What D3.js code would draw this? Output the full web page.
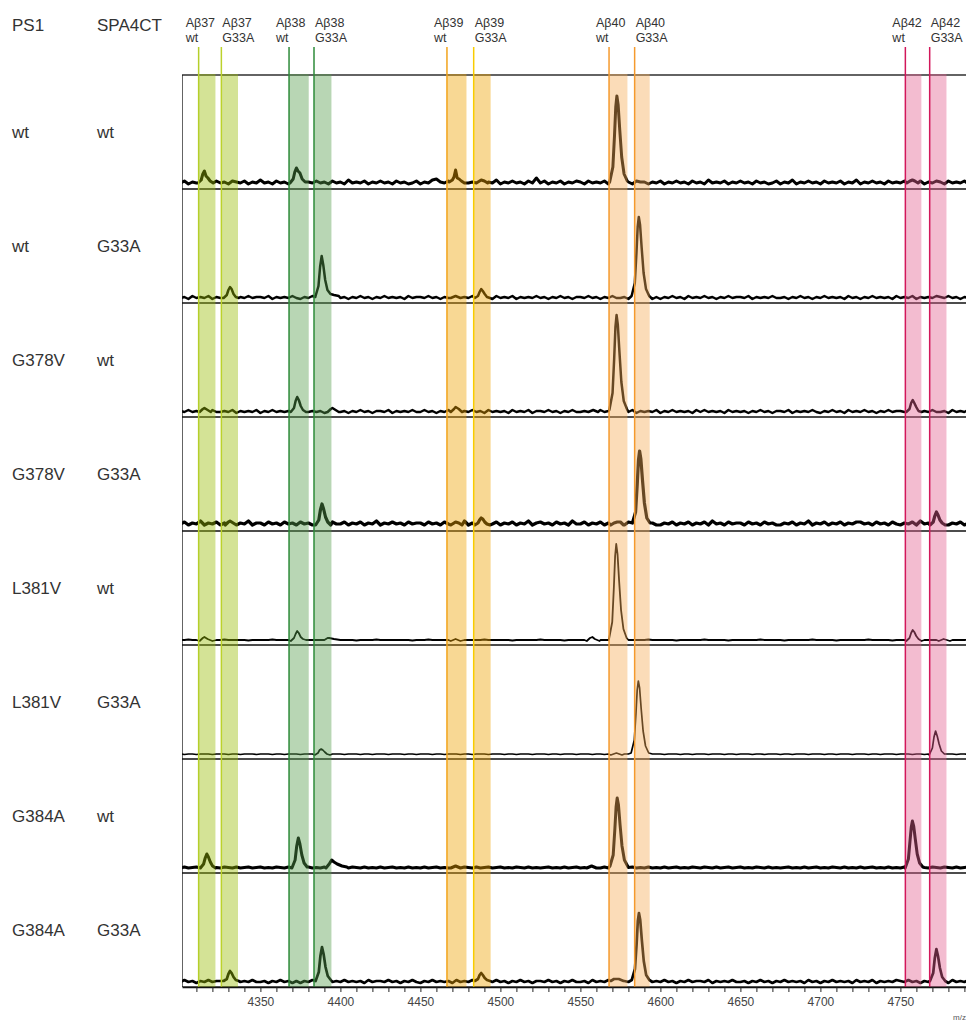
<!DOCTYPE html>
<html>
<head>
<meta charset="utf-8">
<script src="https://cdn.jsdelivr.net/npm/d3@7/dist/d3.min.js"></script>
<style>
body { margin: 0; background: #fff; }
text { font-family: "Liberation Sans", Arial, Helvetica, sans-serif; }
</style>
</head>
<body>
<div id="spectra"></div>
<script>
// row labels
const ps1Labels = ["wt", "wt", "G378V", "G378V", "L381V", "L381V", "G384A", "G384A"];
const spa4ctLabels = ["wt", "G33A", "wt", "G33A", "wt", "G33A", "wt", "G33A"];

// highlighted peptide windows (m/z)
const peptides = ["Aβ37", "Aβ37", "Aβ38", "Aβ38", "Aβ39", "Aβ39", "Aβ40", "Aβ40", "Aβ42", "Aβ42"];
const variants = ["wt", "G33A", "wt", "G33A", "wt", "G33A", "wt", "G33A", "wt", "G33A"];
const windowStart = [4311.4, 4325.6, 4367.9, 4383.5, 4466.6, 4483.3, 4567.9, 4583.9, 4753.1, 4768.3];
const windowEnd = [4321.9, 4336.0, 4380.2, 4394.4, 4478.8, 4493.9, 4579.4, 4593.3, 4763.1, 4778.8];
const lineColors = ["#b5cf2a", "#bcd22c", "#2e8b3a", "#2e8b3a", "#f2a31b", "#f9cc00", "#f59a2e", "#f59a2e", "#d2175a", "#d2175a"];
const fillColors = ["#98bc05", "#98bc05", "#569d4c", "#569d4c", "#eea200", "#eea200", "#f5ab56", "#f5ab56", "#e25f8f", "#e25f8f"];

// x axis ticks
const tickValues = d3.range(4310, 4800, 10);

// baseline sampled every 2.5 m/z from 4300
const baseMz = d3.range(4300, 4800, 2.5);
const base1 = [2,4,1,3,2,5,2,3,1,4, 2,3,1,4,3,2,4,1,3,2, 5,2,3,1,4,2,3,1,3,2, 4,1,3,2,4,2,3,1,4,2,
               3,1,5,2,3,2,4,1,3,2, 4,2,3,1,4,2,3,1,2,4, 1,3,2,5,6,3,2,4,2,3, 1,4,2,3,2,4,1,3,2,5,
               1,3,2,4,2,3,1,4,2,7, 2,4,1,3,2,4,1,3,2,4, 3,1,4,2,3,2,4,1,3,2, 4,2,3,1,4,3,3,1,3,2,
               4,1,3,2,4,2,3,1,4,2, 3,1,5,2,3,2,4,1,3,2, 4,2,3,1,4,2,3,1,2,4, 1,3,2,5,1,3,2,4,2,3,
               1,4,2,3,2,4,1,3,2,5, 1,3,2,4,2,3,1,4,2,3, 2,4,1,3,2,4,1,3,2,4, 3,1,4,2,3,2,4,1,3,2];
const base2 = [1,2,0,3,1,2,1,3,0,2, 1,3,1,2,0,2,1,3,1,2, 2,1,3,0,2,1,2,1,3,1, 0,2,1,3,1,2,0,3,1,2,
               1,2,0,2,1,3,1,2,0,2, 1,3,1,2,1,2,0,3,1,2, 2,1,3,1,2,0,2,1,3,1, 0,2,1,3,1,2,1,2,0,3,
               1,2,1,3,0,2,1,2,1,3, 1,2,0,2,1,3,1,2,0,2, 2,1,3,1,2,0,2,1,3,1, 1,2,0,3,1,2,1,3,0,2,
               0,2,1,3,1,2,0,3,1,2, 1,3,1,2,0,2,1,3,1,2, 2,1,3,0,2,1,2,1,3,1, 1,2,0,2,1,3,1,2,0,2,
               1,3,1,2,1,2,0,3,1,2, 0,2,1,3,1,2,1,2,0,3, 1,2,1,3,0,2,1,2,1,3, 2,1,3,1,2,0,2,1,3,1];
const base3 = [2,1,3,1,2,0,2,1,3,1, 1,2,1,3,0,2,1,2,1,3, 0,2,1,3,1,2,1,2,0,3, 1,3,1,2,1,2,0,3,1,2,
               1,2,0,2,1,3,1,2,0,2, 2,1,3,0,2,1,2,1,3,1, 1,3,1,2,0,2,1,3,1,2, 0,2,1,3,1,2,0,3,1,2,
               1,2,0,3,1,2,1,3,0,2, 2,1,3,1,2,0,2,1,3,1, 1,2,0,2,1,3,1,2,0,2, 1,2,1,3,0,2,1,2,1,3,
               0,2,1,3,1,2,1,2,0,3, 1,3,1,2,1,2,0,3,1,2, 1,2,0,2,1,3,1,2,0,2, 2,1,3,0,2,1,2,1,3,1,
               0,2,1,3,1,2,0,3,1,2, 1,3,1,2,0,2,1,3,1,2, 2,1,3,1,2,0,2,1,3,1, 1,2,0,3,1,2,1,3,0,2];
const base4 = [3,5,2,4,3,6,2,4,3,5, 2,4,3,5,2,4,3,6,2,4, 4,2,5,3,4,2,5,3,4,2, 5,3,4,2,6,3,4,2,5,3,
               3,5,2,4,3,5,2,4,3,6, 2,4,3,5,3,4,2,5,3,4, 4,2,5,3,4,2,5,3,4,2, 3,6,2,4,3,5,2,4,3,5,
               2,4,3,5,2,4,3,6,2,4, 5,3,4,2,5,3,4,2,6,3, 3,5,2,4,3,5,2,4,3,5, 4,2,5,3,4,2,6,3,4,2,
               2,4,3,5,2,4,3,5,2,4, 3,5,2,6,3,4,2,5,3,4, 4,2,5,3,4,2,5,3,4,2, 2,4,3,5,2,4,3,6,2,4,
               3,5,2,4,3,5,2,4,3,5, 5,3,4,2,5,3,4,2,5,3, 2,4,3,5,2,6,3,4,2,5, 3,5,2,4,3,5,2,4,3,5];
const base5 = [1,1,1.5,1,1,1,0.5,1,1,1, 1,1.5,1,1,1,1,1,0.5,1,1, 1,1,1,1.5,1,1,1,1,1,1, 1,0.5,1,1,1,1,1.5,1,1,1,
               1,1,1,1,0.5,1,1,1,1,1.5, 1,1,1,1,1,1,1,1,0.5,1, 1,1,1.5,1,1,1,1,1,1,1, 0.5,1,1,1,1,1,1.5,1,1,1,
               1,1,1,0.5,1,1,1,1,1,1, 1.5,1,1,1,1,1,0.5,1,1,1, 1,1,1,1,1.5,1,1,1,1,1, 0.5,1,1,1,1,1,1,1.5,1,1,
               1,1,1,1,0.5,1,1,1,1,1, 1,1.5,1,1,1,1,1,0.5,1,1, 1,1,1,1,1,1.5,1,1,1,1, 1,0.5,1,1,1,1,1,1,1.5,1,
               1,1,1,1,0.5,1,1,1,1,1, 1,1,1.5,1,1,1,1,1,0.5,1, 1,1,1,1,1,1.5,1,1,1,1, 1,1,0.5,1,1,1,1,1.5,1,1];
const base6 = [1,0.5,1,1,0.5,1,1,1,0.5,1, 1,1,0.5,1,1,0.5,1,1,1,0.5, 1,1,1,0.5,1,1,0.5,1,1,1, 0.5,1,1,1,0.5,1,1,0.5,1,1,
               1,0.5,1,1,1,0.5,1,1,0.5,1, 1,1,0.5,1,1,1,0.5,1,1,0.5, 1,1,1,0.5,1,1,0.5,1,1,1, 0.5,1,1,0.5,1,1,1,0.5,1,1,
               1,0.5,1,1,0.5,1,1,1,0.5,1, 1,1,0.5,1,1,0.5,1,1,1,0.5, 1,1,1,0.5,1,1,0.5,1,1,1, 0.5,1,1,1,0.5,1,1,0.5,1,1,
               1,0.5,1,1,1,0.5,1,1,0.5,1, 1,1,0.5,1,1,1,0.5,1,1,0.5, 1,1,1,0.5,1,1,0.5,1,1,1, 0.5,1,1,0.5,1,1,1,0.5,1,1,
               1,0.5,1,1,0.5,1,1,1,0.5,1, 1,1,0.5,1,1,0.5,1,1,1,0.5, 1,1,1,0.5,1,1,0.5,1,1,1, 0.5,1,1,1,0.5,1,1,0.5,1,1];
const base7 = [1,2,1,1.5,2,1,1.5,1,2,1.5, 1,2,1.5,1,2,1,1.5,2,1,1.5, 2,1,1.5,1,2,1.5,1,2,1,1.5, 1,1.5,2,1,1.5,1,2,1,1.5,2,
               1,1.5,1,2,1.5,1,2,1,1.5,1, 2,1,1.5,2,1,1.5,1,2,1,1.5, 1,2,1,1.5,2,1,1.5,1,2,1.5, 1,2,1.5,1,2,1,1.5,2,1,1.5,
               2,1,1.5,1,2,1.5,1,2,1,1.5, 1,1.5,2,1,1.5,1,2,1,1.5,2, 1,1.5,1,2,1.5,1,2,1,1.5,1, 2,1,1.5,2,1,1.5,1,2,1,1.5,
               1,2,1,1.5,2,1,1.5,1,2,1.5, 1,2,1.5,1,2,1,1.5,2,1,1.5, 2,1,1.5,1,2,1.5,1,2,1,1.5, 1,1.5,2,1,1.5,1,2,1,1.5,2,
               1,1.5,1,2,1.5,1,2,1,1.5,1, 2,1,1.5,2,1,1.5,1,2,1,1.5, 1,2,1,1.5,2,1,1.5,1,2,1.5, 1,2,1.5,1,2,1,1.5,2,1,1.5];
const base8 = [1,3,1,2,0,2,1,3,1,2, 2,1,3,0,2,1,2,1,3,1, 1,2,0,2,1,3,1,2,0,2, 0,2,1,3,1,2,0,3,1,2,
               1,3,1,2,1,2,0,3,1,2, 2,1,3,1,2,0,2,1,3,1, 0,2,1,3,1,2,1,2,0,3, 1,2,1,3,0,2,1,2,1,3,
               1,2,0,2,1,3,1,2,0,2, 2,1,3,1,2,0,2,1,3,1, 1,2,0,3,1,2,1,3,0,2, 0,2,1,3,1,2,0,3,1,2,
               1,3,1,2,0,2,1,3,1,2, 2,1,3,0,2,1,2,1,3,1, 1,2,0,2,1,3,1,2,0,2, 1,3,1,2,1,2,0,3,1,2,
               0,2,1,3,1,2,1,2,0,3, 1,2,1,3,0,2,1,2,1,3, 2,1,3,1,2,0,2,1,3,1, 1,2,0,3,1,2,1,3,0,2];

// peaks per panel: [m/z, intensity]
const peaks1 = [
    [[4311,2],[4313,5],[4314,11],[4315,14],[4316,9],[4317.2,7],[4318.6,4],[4320.5,2]],
    [[4368.5,2],[4370.5,6],[4371.5,13],[4372.5,17],[4373.5,14],[4374.7,12],[4376.1,6],[4378,3]],
    [[4468,3],[4470,5],[4471,8],[4472,15],[4473,7],[4474.2,6],[4475.6,4],[4477.5,2]],
    [[4485,2],[4487,4],[4488,5],[4490,4],[4492,2]],
    [[4568.3,3],[4570.3,18],[4571.3,49],[4572.1,78],[4572.8,89],[4573.6,80],[4574.6,55],[4575.8,28],[4577.3,11],[4579.3,4]],
    [[4754,2],[4756,4],[4757.5,5],[4759,4],[4761,2]]
];
const peaks2 = [
    [[4327,1],[4329,4],[4330,9],[4331,12],[4332,10],[4333.2,5],[4334.6,2],[4336.5,1]],
    [[4384.3,2],[4386.3,13],[4387.3,32],[4388.3,43],[4389.3,34],[4390.5,19],[4391.9,9],[4393.8,5],[4396,4],[4399,3]],
    [[4469,1],[4472,3],[4475,1]],
    [[4484,1],[4486,3],[4487,7],[4488,10],[4489,8],[4490.2,5],[4491.6,2],[4493.5,1]],
    [[4582,3],[4584,16],[4585,45],[4585.8,72],[4586.5,82],[4587.3,74],[4588.3,51],[4589.5,26],[4591,10],[4593,3]]
];
const peaks3 = [
    [[4312,1],[4314,4],[4315,5],[4317,3],[4319,1]],
    [[4369,1],[4371,5],[4372,12],[4373,16],[4374,13],[4375.2,7],[4376.6,3],[4378.5,1]],
    [[4392,1],[4394,4],[4395,5],[4397,3],[4399,1]],
    [[4469,1],[4471,4],[4472,6],[4474,4],[4476,1]],
    [[4555,1],[4558,3],[4561,1]],
    [[4568.1,3],[4570.1,20],[4571.1,54],[4571.9,86],[4572.6,98],[4573.4,88],[4574.4,61],[4575.6,31],[4577.1,12],[4579.1,4]],
    [[4753.7,1],[4755.7,4],[4756.7,10],[4757.7,13],[4758.7,10],[4759.9,6],[4761.3,2],[4763.2,1]]
];
const peaks4 = [
    [[4328,2],[4330,5],[4331,6],[4333,4],[4335,2]],
    [[4384.5,2],[4386.5,7],[4387.5,17],[4388.5,23],[4389.5,18],[4390.7,10],[4392.1,5],[4394,2]],
    [[4469,2],[4471,4],[4472,5],[4474,4],[4476,2]],
    [[4484,2],[4486,4],[4487,7],[4488,9],[4489,8],[4490.2,5],[4491.6,3],[4493.5,2]],
    [[4569,2],[4571,4],[4573,5],[4575,5],[4577,2]],
    [[4582.5,4],[4584.5,15],[4585.5,42],[4586.3,67],[4587,76],[4587.8,68],[4588.8,47],[4590,24],[4591.5,9],[4593.5,4]],
    [[4768.5,2],[4770.5,5],[4771.5,11],[4772.5,15],[4773.5,12],[4774.7,7],[4776.1,4],[4778,2]]
];
const peaks5 = [
    [[4312,0],[4314,3],[4315,4],[4317,2],[4320,0]],
    [[4369,0],[4371,3],[4372,7],[4373,10],[4374,8],[4375.2,4],[4376.6,2],[4378.5,1]],
    [[4390,1],[4392,3],[4393,3],[4396,2],[4400,1]],
    [[4469,0],[4472,2],[4475,0]],
    [[4554,0],[4556,3],[4557.5,4],[4559,2],[4562,0]],
    [[4567.9,2],[4569.9,19],[4570.9,53],[4571.7,85],[4572.4,97],[4573.2,87],[4574.2,60],[4575.4,31],[4576.9,12],[4578.9,3]],
    [[4753.7,0],[4755.7,3],[4756.7,8],[4757.7,11],[4758.7,9],[4759.9,5],[4761.3,2],[4763.2,0]],
    [[4774,0],[4777,2],[4781,0]]
];
const peaks6 = [
    [[4384,0],[4386,2],[4387,5],[4388,6],[4389,5],[4390.2,3],[4391.6,1],[4393.5,0]],
    [[4569,0],[4572.5,2],[4576,0]],
    [[4581.7,2],[4583.7,15],[4584.7,41],[4585.5,65],[4586.2,74],[4587,67],[4588,46],[4589.2,24],[4590.7,9],[4592.7,2]],
    [[4768,0],[4770,7],[4771,18],[4772,24],[4773,19],[4774.2,11],[4775.6,4],[4777.5,1]]
];
const peaks7 = [
    [[4312.5,1],[4314.5,5],[4315.5,11],[4316.5,15],[4317.5,12],[4318.7,7],[4320.1,3],[4322,1]],
    [[4369.7,1],[4371.7,9],[4372.7,23],[4373.7,31],[4374.7,25],[4375.9,14],[4377.3,6],[4379.2,2]],
    [[4391,1],[4393,5],[4394.5,9],[4396,7],[4398,5],[4401,3],[4404,2]],
    [[4469,1],[4472,3],[4475,1]],
    [[4554,1],[4557,3],[4560,1]],
    [[4568.5,3],[4570.5,14],[4571.5,39],[4572.3,62],[4573,71],[4573.8,64],[4574.8,44],[4576,23],[4577.5,9],[4579.5,3]],
    [[4753,1],[4755,10],[4756,28],[4756.8,42],[4757.5,48],[4758.3,43],[4759.3,30],[4760.5,15],[4762,6],[4764,2]]
];
const peaks8 = [
    [[4327,2],[4329,4],[4330,9],[4331,12],[4332,10],[4333.2,6],[4334.6,3],[4336.5,2]],
    [[4384.5,2],[4386.5,11],[4387.5,27],[4388.5,36],[4389.5,29],[4390.7,16],[4392.1,7],[4394,3]],
    [[4484,2],[4486,4],[4487,8],[4488,10],[4489,8],[4490.2,5],[4491.6,3],[4493.5,2]],
    [[4569,2],[4571,4],[4574,4],[4577,2]],
    [[4582.1,3],[4584.1,14],[4585.1,38],[4585.9,62],[4586.6,70],[4587.4,63],[4588.4,43],[4589.6,22],[4591.1,8],[4593.1,3]],
    [[4768.5,2],[4770.5,10],[4771.5,25],[4772.5,34],[4773.5,27],[4774.7,15],[4776.1,6],[4778,2]]
];

const baselines = [base1, base2, base3, base4, base5, base6, base7, base8];
const peakSets = [peaks1, peaks2, peaks3, peaks4, peaks5, peaks6, peaks7, peaks8];
const traceWidths = [3.0, 2.5, 2.5, 3.2, 1.8, 1.7, 3.0, 2.7];

/**
 * Constructor for the spectra stack
 */
function SpectraChart() {
    let self = this;
    self.init();
}

/**
 * Merges baseline samples and peak points into one trace
 */
SpectraChart.prototype.trace = function(base, peaks) {
    let spans = peaks.map(p => [p[0][0], p[p.length - 1][0]]);
    let pts = base.map((v, i) => [baseMz[i], v])
        .filter(d => !spans.some(s => d[0] >= s[0] && d[0] <= s[1]));
    peaks.forEach(p => { pts = pts.concat(p); });
    pts.sort((a, b) => a[0] - b[0]);
    return pts;
};

SpectraChart.prototype.init = function() {
    let self = this;
    self.width = 966;
    self.height = 1022;
    self.plot = {left: 182, right: 968, top: 75, bottom: 987};

    self.svg = d3.select("#spectra").append("svg")
        .attr("width", self.width)
        .attr("height", self.height);

    self.x = d3.scaleLinear()
        .domain([4301, 4301 + (self.plot.right - self.plot.left) / 1.6])
        .range([self.plot.left, self.plot.right]);

    self.rows = d3.scaleBand()
        .domain(d3.range(ps1Labels.length))
        .range([self.plot.top, self.plot.bottom]);

    self.svg.append("clipPath").attr("id", "plot-clip")
        .append("rect")
        .attr("x", self.plot.left)
        .attr("y", self.plot.top - 30)
        .attr("width", self.plot.right - self.plot.left)
        .attr("height", self.plot.bottom - self.plot.top + 30);

    //header labels
    self.svg.append("text").attr("x", 12).attr("y", 31)
        .attr("font-size", 17).attr("fill", "#333").text("PS1");
    self.svg.append("text").attr("x", 97).attr("y", 31)
        .attr("font-size", 17).attr("fill", "#333").text("SPA4CT");

    //row labels
    ps1Labels.forEach(function(lab, i) {
        let cy = self.rows(i) + self.rows.bandwidth() / 2;
        self.svg.append("text").attr("x", 12).attr("y", cy).attr("dy", "0.35em")
            .attr("font-size", 17).attr("fill", "#333").text(lab);
        self.svg.append("text").attr("x", 97).attr("y", cy).attr("dy", "0.35em")
            .attr("font-size", 17).attr("fill", "#333").text(spa4ctLabels[i]);
    });

    //spectra
    let g = self.svg.append("g").attr("clip-path", "url(#plot-clip)");
    baselines.forEach(function(base, i) {
        let bottom = self.rows(i) + self.rows.bandwidth();
        let y = d3.scaleLinear().domain([0, 100]).range([bottom - 4, bottom - 104]);
        let line = d3.line().x(d => self.x(d[0])).y(d => y(d[1]));
        g.append("path")
            .datum(self.trace(base, peakSets[i]))
            .attr("d", line)
            .attr("fill", "none")
            .attr("stroke", "#000")
            .attr("stroke-width", traceWidths[i])
            .attr("stroke-linejoin", "round");
    });

    //panel separators
    d3.range(1, ps1Labels.length).forEach(function(i) {
        g.append("line")
            .attr("x1", self.plot.left).attr("x2", self.plot.right)
            .attr("y1", self.rows(i)).attr("y2", self.rows(i))
            .attr("stroke", "#111").attr("stroke-width", 1.6);
    });

    //frame
    g.append("rect")
        .attr("x", self.plot.left).attr("y", self.plot.top)
        .attr("width", self.plot.right - self.plot.left + 5)
        .attr("height", self.plot.bottom - self.plot.top)
        .attr("fill", "none").attr("stroke", "#111").attr("stroke-width", 1.3);

    //highlight windows
    g.selectAll("rect.win").data(windowStart).enter().append("rect")
        .attr("class", "win")
        .attr("x", d => self.x(d))
        .attr("y", self.plot.top - 1)
        .attr("width", (d, i) => self.x(windowEnd[i]) - self.x(d))
        .attr("height", self.plot.bottom - self.plot.top + 1)
        .attr("fill", (d, i) => fillColors[i])
        .attr("opacity", 0.42);

    g.selectAll("line.marker").data(windowStart).enter().append("line")
        .attr("class", "marker")
        .attr("x1", d => self.x(d)).attr("x2", d => self.x(d))
        .attr("y1", 47).attr("y2", self.plot.bottom)
        .attr("stroke", (d, i) => lineColors[i])
        .attr("stroke-width", 1.5);

    //window labels
    windowStart.forEach(function(m, i) {
        let tx = variants[i] === "wt" ? self.x(m) - 13 : self.x(m) + 1;
        let t = self.svg.append("text")
            .attr("x", tx).attr("y", 27)
            .attr("font-size", 12.5).attr("fill", "#333");
        t.append("tspan").attr("x", tx).text(peptides[i]);
        t.append("tspan").attr("x", tx).attr("dy", 14.5).text(variants[i]);
    });

    //x axis
    let axis = d3.axisBottom(self.x)
        .tickValues(tickValues)
        .tickSize(5)
        .tickSizeOuter(0)
        .tickFormat(d => d % 50 === 0 ? d : "");
    let ax = self.svg.append("g")
        .attr("transform", "translate(0," + self.plot.bottom + ")")
        .call(axis);
    ax.select(".domain").attr("stroke", "#111").attr("stroke-width", 1.3);
    ax.selectAll(".tick line").attr("stroke", "#222");
    ax.selectAll(".tick text")
        .attr("font-family", "Liberation Sans, Arial, sans-serif")
        .attr("font-size", 12).attr("fill", "#444").attr("dy", "0.9em");

    self.svg.append("text").attr("x", 953).attr("y", 1020)
        .attr("font-size", 8).attr("fill", "#555").text("m/z");
};

new SpectraChart();
</script>
</body>
</html>
